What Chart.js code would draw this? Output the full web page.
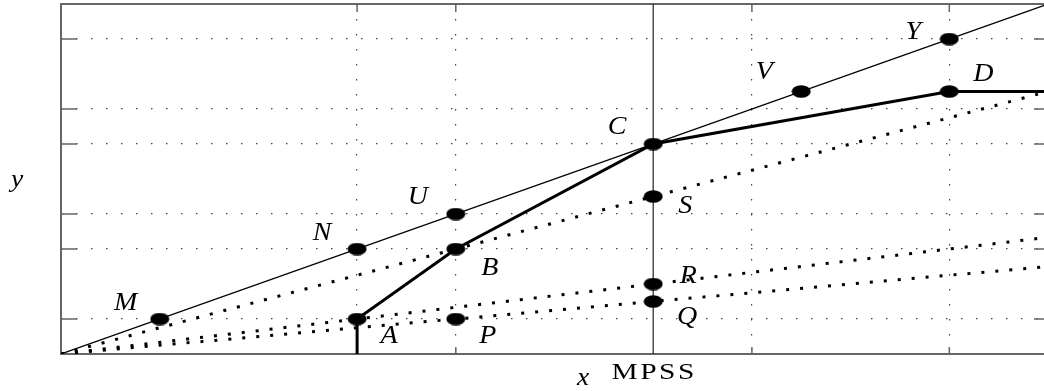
<!DOCTYPE html>
<html lang="en">
<head>
    <meta charset="UTF-8">
    <title>MPSS chart</title>
    <script src="https://cdn.jsdelivr.net/npm/chart.js"></script>
    <style>
        body { margin: 0; overflow: hidden; background: #fff; }
    </style>
</head>
<body>
    <canvas id="mpssChart" width="1048" height="391"></canvas>

    <script>
        // named points
        const pointNames = ['M', 'N', 'U', 'C', 'V', 'Y', 'A', 'B', 'D', 'P', 'S', 'R', 'Q'];
        const pointX = [1, 3, 4, 6, 7.5, 9, 3, 4, 9, 4, 6, 6, 6];
        const pointY = [1, 3, 4, 6, 7.5, 9, 1, 3, 7.5, 1, 4.5, 2, 1.5];

        // lines
        const diagX = [0, 10];
        const diagY = [0, 10];
        const pathX = [3, 3, 4, 6, 9, 10];
        const pathY = [0, 1, 3, 6, 7.5, 7.5];
        const dotX = [0, 10];
        const dotHighY = [0, 7.5];
        const dotMidY = [0, 10 / 3];
        const dotLowY = [0, 2.5];
        const mpssX = [6, 6];
        const mpssY = [0, 10];

        // grid / tick positions
        const xTicks = [3, 4, 7, 9];
        const yTicks = [1, 3, 4, 6, 7, 9];

        // label offsets in px from each point
        const labelOffset = {
            M: [-34, -16], N: [-35, -16], U: [-38, -17], C: [-36, -17], V: [-37, -19],
            Y: [-36, -7], D: [34, -17], B: [34, 19], A: [32, 17], P: [32, 17],
            S: [32, 10], R: [35, -8], Q: [34, 16]
        };

        function toXY(xs, ys) {
            return xs.map((x, i) => ({ x: x, y: ys[i] }));
        }

        // text stretched a bit wider, like the TeX font
        function wideText(ctx, txt, x, y, sx) {
            ctx.save();
            ctx.translate(x, y);
            ctx.scale(sx, 1);
            ctx.fillText(txt, 0, 0);
            ctx.restore();
        }

        // ellipse marker
        const dot = document.createElement('canvas');
        dot.width = 20; dot.height = 13;
        const dctx = dot.getContext('2d');
        dctx.fillStyle = '#000';
        dctx.beginPath();
        dctx.ellipse(10, 6.5, 9.5, 6.3, 0, 0, Math.PI * 2);
        dctx.fill();

        const dotted = { borderColor: '#000', borderWidth: 3, borderDash: [3, 11], pointRadius: 0, showLine: true, fill: false };

        const framePlugin = {
            id: 'frame',
            beforeDatasetsDraw(chart) {
                const { ctx, chartArea: a, scales } = chart;
                ctx.save();
                ctx.strokeStyle = '#666';
                ctx.lineWidth = 1.5;
                ctx.beginPath();
                yTicks.forEach(v => {
                    const py = scales.y.getPixelForValue(v);
                    ctx.moveTo(a.left, py); ctx.lineTo(a.left + 16, py);
                    ctx.moveTo(a.right, py); ctx.lineTo(a.right - 14, py);
                });
                xTicks.forEach(v => {
                    const px = scales.x.getPixelForValue(v);
                    ctx.moveTo(px, a.bottom); ctx.lineTo(px, a.bottom - 7);
                    ctx.moveTo(px, a.top); ctx.lineTo(px, a.top + 8);
                });
                ctx.stroke();
                ctx.lineWidth = 2;
                ctx.strokeRect(a.left, a.top, a.right - a.left, a.bottom - a.top);
                ctx.restore();
            },
            afterDatasetsDraw(chart) {
                const { ctx, scales } = chart;
                ctx.save();
                ctx.fillStyle = '#000';
                ctx.textAlign = 'center';
                ctx.textBaseline = 'middle';
                ctx.font = 'italic 25px "Liberation Serif"';
                pointNames.forEach((n, i) => {
                    const off = labelOffset[n];
                    wideText(ctx, n, scales.x.getPixelForValue(pointX[i]) + off[0], scales.y.getPixelForValue(pointY[i]) + off[1], 1.12);
                });
                wideText(ctx, 'y', 17, 180, 1.1);
                wideText(ctx, 'x', 583, 378, 1.1);
                ctx.font = '23px "Liberation Serif"';
                ctx.letterSpacing = '2px';
                wideText(ctx, 'MPSS', scales.x.getPixelForValue(6) + 1, 373, 1.28);
                ctx.restore();
            }
        };

        const ctx = document.getElementById('mpssChart').getContext('2d');
        new Chart(ctx, {
            type: 'scatter',
            data: {
                datasets: [
                    { data: toXY(pointX, pointY), pointStyle: dot, pointRadius: 8, showLine: false },
                    { data: toXY(pathX, pathY), borderColor: '#000', borderWidth: 3, pointRadius: 0, showLine: true },
                    { data: toXY(diagX, diagY), borderColor: '#000', borderWidth: 1.2, pointRadius: 0, showLine: true },
                    { data: toXY(mpssX, mpssY), borderColor: '#222', borderWidth: 1.2, pointRadius: 0, showLine: true },
                    Object.assign({ data: toXY(dotX, dotHighY) }, dotted),
                    Object.assign({ data: toXY(dotX, dotMidY) }, dotted),
                    Object.assign({ data: toXY(dotX, dotLowY) }, dotted)
                ]
            },
            options: {
                responsive: false,
                animation: false,
                layout: { autoPadding: false, padding: { left: 61, top: 4, right: 0, bottom: 37 } },
                plugins: { legend: { display: false }, tooltip: { enabled: false } },
                scales: {
                    x: {
                        type: 'linear', min: 0, max: 10,
                        afterBuildTicks: axis => { axis.ticks = xTicks.map(v => ({ value: v })); },
                        ticks: { display: false },
                        grid: { color: '#444', lineWidth: 1.2, drawTicks: false },
                        border: { display: false, dash: [1.5, 13.5] }
                    },
                    y: {
                        type: 'linear', min: 0, max: 10,
                        afterBuildTicks: axis => { axis.ticks = yTicks.map(v => ({ value: v })); },
                        ticks: { display: false },
                        grid: { color: '#444', lineWidth: 1.2, drawTicks: false },
                        border: { display: false, dash: [1.5, 13.5] }
                    }
                }
            },
            plugins: [framePlugin]
        });
    </script>
</body>
</html>
